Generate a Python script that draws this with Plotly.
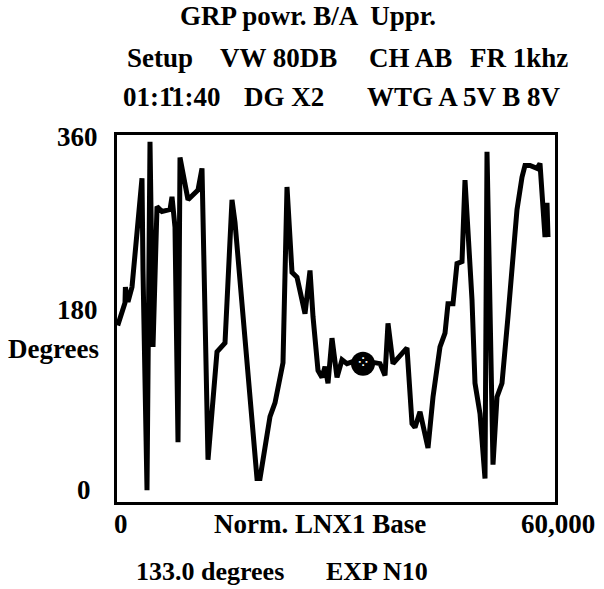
import plotly.graph_objects as go

# Phase trace, degrees versus normalised LNX1 base position
position = [100, 1096, 1150, 1507, 2055, 3425, 3562, 4110, 4521, 4932, 5480,
            6165, 7260, 7534, 7945, 8356, 8630, 9726, 11096, 11644, 12466,
            13699, 14795, 15754, 16165, 19178, 19589, 20959, 21644, 22740,
            23288, 23973, 24658, 25753, 26438, 26849, 27534, 28082, 28493,
            28904, 29452, 30137, 30822, 31507, 32300, 33700, 35300, 36027,
            36712, 37123, 37808, 39726, 40411, 40822, 41507, 42603, 43288,
            44247, 44932, 45342, 46027, 46575, 47260, 47671, 48630, 49041,
            49726, 50411, 50685, 51096, 51507, 52055, 52740, 53562, 54795,
            55480, 55890, 56575, 57534, 57945, 58356, 58630, 58904, 59041]
phase = [172, 195, 211, 196, 211, 322, 228, 4, 359, 150, 293,
         288, 290, 303, 272, 53, 343, 300, 310, 332, 35,
         145, 154, 300, 277, 16, 16, 79, 93, 134,
         313, 226, 221, 184, 228, 181, 126, 119, 130,
         113, 159, 119, 137, 133, 135, 133, 134, 133,
         121, 174, 133, 149, 72, 68, 84, 47, 99,
         150, 164, 194, 194, 235, 237, 320, 198, 113,
         82, 16, 349, 150, 30, 99, 113, 181, 290,
         323, 335, 335, 332, 337, 300, 262, 297, 262]

cursor_position = [33700]
cursor_phase = [133.0]

header_lines = [
    [("GRP powr. B/A  Uppr.", 178)],
    [("Setup", 125), ("VW 80DB", 218), ("CH AB", 367), ("FR 1khz", 468)],
    [("01:1\u03071:40", 121), ("DG X2", 242), ("WTG A 5V B 8V", 365)],
]
header_y = [16, 58, 97]

y_tick_labels = ["360", "180", "0"]
x_tick_labels = ["0", "60,000"]

W, H = 604, 589
L, R, T, B = 117, 555, 135, 502

FONT = "Liberation Serif, Times New Roman, serif"
FS = 27

fig = go.Figure()
fig.add_trace(go.Scatter(
    x=position, y=phase, mode="lines",
    line=dict(color="black", width=5),
    hoverinfo="skip", showlegend=False,
))
fig.add_trace(go.Scatter(
    x=cursor_position, y=cursor_phase, mode="markers+text",
    marker=dict(symbol="circle", size=24, color="black"),
    text=["⁘"], textposition="middle center",
    textfont=dict(color="white", size=17, family="DejaVu Sans"),
    hoverinfo="skip", showlegend=False,
))


def px(xp):
    # page pixel -> paper fraction (paper spans the plot area)
    return (xp - L) / (R - L)


def py(yp):
    return (B - yp) / (B - T)


def label(txt, xp, yp, anchor="left", size=FS):
    return dict(text=f"<b>{txt}</b>", x=px(xp), y=py(yp),
                xref="paper", yref="paper", xanchor=anchor, yanchor="middle",
                showarrow=False, font=dict(family=FONT, size=size, color="black"))


annotations = []
for row, yc in zip(header_lines, header_y):
    for txt, x0 in row:
        annotations.append(label(txt, x0, yc))

# left-side labels
for txt, xr, yc in zip(y_tick_labels, [100, 100, 93], [137, 310, 490]):
    annotations.append(label(txt, xr, yc, "right"))
annotations.append(label("Degrees", 6, 349))

# bottom labels
annotations.append(label(x_tick_labels[0], 112, 524))
annotations.append(label("Norm. LNX1 Base", 212, 524))
annotations.append(label(x_tick_labels[1], 597, 524, "right"))
annotations.append(label(f"{cursor_phase[0]:.1f} degrees", 134, 571, size=26))
annotations.append(label("EXP N10", 324, 571, size=26))

axis_common = dict(showline=True, linecolor="black", linewidth=3, mirror=True,
                   showgrid=False, zeroline=False, showticklabels=False,
                   ticks="")

fig.update_layout(
    width=W, height=H,
    margin=dict(l=L, r=W - R, t=T, b=H - B, pad=0),
    paper_bgcolor="white", plot_bgcolor="white",
    xaxis=dict(range=[0, 60000], **axis_common),
    yaxis=dict(range=[-8, 366], **axis_common),
    annotations=annotations,
    showlegend=False,
)

fig.write_html("out.html")
